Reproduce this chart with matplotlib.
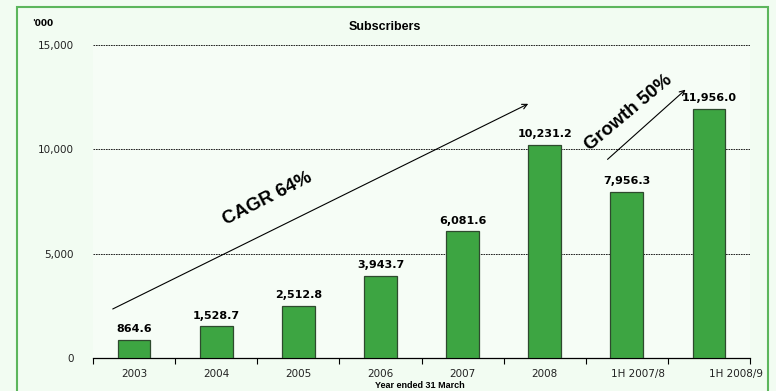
import matplotlib
matplotlib.use("Agg")
import matplotlib.pyplot as plt
from matplotlib.patches import Rectangle
import matplotlib.transforms as mtrans

categories = ["2003", "2004", "2005", "2006", "2007", "2008", "1H 2007/8", "1H 2008/9"]
subscribers = [864.6, 1528.7, 2512.8, 3943.7, 6081.6, 10231.2, 7956.3, 11956.0]
yticks = [0, 5000, 10000, 15000]

fig = plt.figure(figsize=(7.76, 3.91), dpi=100, facecolor="#F2FCF2")
ax = fig.add_axes([93/776, 1-358/391, (750-93)/776, (358-45)/391])
ax.set_facecolor("#F6FDF6")

x = list(range(len(categories)))
ax.bar(x, subscribers, width=0.4, color="#3DA542", edgecolor="#2E4A2E", linewidth=0.9, zorder=3)
for xi, v in zip(x, subscribers):
    ax.annotate(f"{v:,.1f}", (xi, v), xytext=(0, 4), textcoords="offset points",
                ha="center", va="bottom", fontsize=8, fontweight="bold", zorder=4)

ax.set_xlim(-0.5, len(categories) - 0.5)
ax.set_ylim(0, 15000)
ax.set_yticks(yticks)
ax.set_yticklabels([f"{t:,}" for t in yticks], fontsize=7.5, color="#222222")
ax.tick_params(axis="y", length=0, pad=14)
for t in yticks[1:]:
    ax.axhline(t, color="black", linestyle=(0, (2, 1)), linewidth=0.6, zorder=1)

# x ticks at boundaries, labels at centers
ax.set_xticks([i - 0.5 for i in range(len(categories) + 1)])
ax.set_xticklabels([])
ax.tick_params(axis="x", length=4, width=0.8, direction="out")
ax.set_xticks(x, minor=True)
ax.set_xticklabels(categories, minor=True, fontsize=7.5, color="#222222")
ax.tick_params(axis="x", which="minor", length=0, pad=8)
shifts = [0, 0, 0, 0, 0, 0, 11, 27]
for lab, s in zip(ax.get_xticklabels(minor=True), shifts):
    lab.set_transform(lab.get_transform() + mtrans.ScaledTranslation(s/100, 0, fig.dpi_scale_trans))

for s in ["top", "right", "left"]:
    ax.spines[s].set_visible(False)
ax.spines["bottom"].set_linewidth(0.9)

# annotations
ax.annotate("", xy=(4.83, 12240), xytext=(-0.29, 2290),
            arrowprops=dict(arrowstyle="->", color="black", lw=0.8, mutation_scale=9))
ax.text(1.63, 7620, "CAGR 64%", rotation=27, ha="center", va="center",
        fontsize=13.5, fontweight="bold", family="Liberation Sans")
ax.annotate("", xy=(6.74, 12950), xytext=(5.74, 9430),
            arrowprops=dict(arrowstyle="->", color="black", lw=0.8, mutation_scale=9))
ax.text(6.02, 11760, "Growth 50%", rotation=40, ha="center", va="center",
        fontsize=13.5, fontweight="bold", family="Liberation Sans")

fig.text(385/776, 1-27/391, "Subscribers", ha="center", va="center",
         fontsize=9, fontweight="bold", family="Liberation Sans")
fig.text(32/776, 1-24/391, "'000", ha="left", va="center", fontsize=6.5, fontweight="bold")
fig.text(420/776, 0.5/391, "Year ended 31 March", ha="center", va="bottom",
         fontsize=6.5, fontweight="bold", family="Liberation Sans")

fig.patches.append(Rectangle((17/776, -0.05), (768-17)/776, 1-7/391+0.05, transform=fig.transFigure,
                             fill=False, edgecolor="#5DB65D", linewidth=1.5))

fig.savefig("out.png", dpi=100, facecolor=fig.get_facecolor())
